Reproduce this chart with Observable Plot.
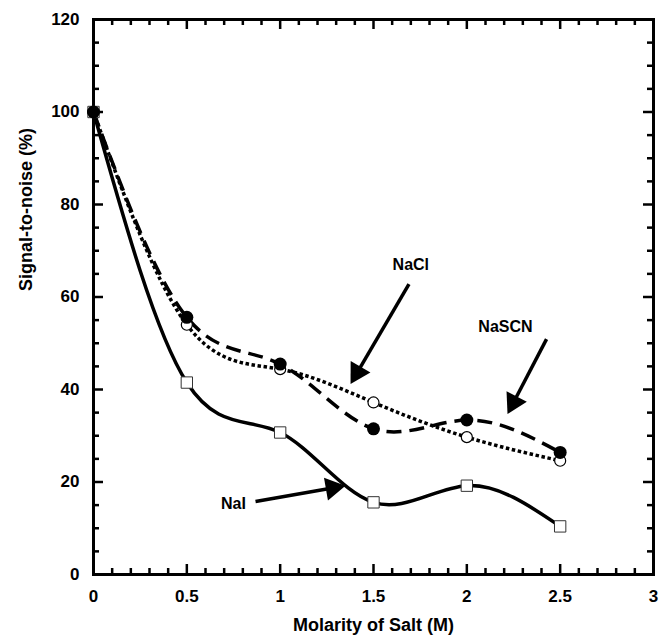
<!DOCTYPE html>
<html><head><meta charset="utf-8">
<script src="https://cdn.jsdelivr.net/npm/d3@7"></script>
<script src="https://cdn.jsdelivr.net/npm/@observablehq/plot@0.6"></script>
<style>
body{margin:0;background:#fff}
#chart svg{font-family:"Liberation Sans",Arial,Helvetica,sans-serif;font-weight:bold}
</style>
</head><body><div id="chart"></div>
<script>
// ---- data ----
const molarity = [0, 0.5, 1, 1.5, 2, 2.5];
const naI   = [100, 41.5, 30.7, 15.6, 19.2, 10.4];
const naCl  = [100, 54.0, 44.4, 37.2, 29.7, 24.6];
const naSCN = [100, 55.6, 45.5, 31.5, 33.4, 26.4];

const xMajor = [0, 0.5, 1, 1.5, 2, 2.5, 3];
const xTickLabels = ["0", "0.5", "1", "1.5", "2", "2.5", "3"];
const yMajor = [0, 20, 40, 60, 80, 100, 120];
const yTickLabels = ["0", "20", "40", "60", "80", "100", "120"];
const xMinor = [0.1,0.2,0.3,0.4,0.6,0.7,0.8,0.9,1.1,1.2,1.3,1.4,1.6,1.7,1.8,1.9,2.1,2.2,2.3,2.4,2.6,2.7,2.8,2.9];
const yMinor = [5,10,15,25,30,35,45,50,55,65,70,75,85,90,95,105,110,115];

const annLabels = ["NaCl", "NaSCN", "NaI"];
const annTextX  = [1.70, 2.207, 0.75];
const annTextY  = [67.0, 53.5, 15.2];
const annFromX  = [1.69, 2.427, 0.868];
const annFromY  = [62.8, 50.9, 15.8];
const annToX    = [1.377, 2.218, 1.35];
const annToY    = [41.2, 34.7, 19.2];

const xTitle = "Molarity of Salt (M)";
const yTitle = "Signal-to-noise (%)";

// ---- layout ----
const W = 660, H = 638, mt = 19, mr = 7, mb = 64, ml = 93;
const plotW = W - ml - mr, plotH = H - mt - mb;
const kx = plotW / 3, ky = plotH / 120;

const rows = molarity.map((m, i) => ({m, naI: naI[i], naCl: naCl[i], naSCN: naSCN[i]}));

const headR = 8.5, tipDist = 1.555 * headR;
const arrows = annLabels.map((lab, i) => {
  const dxp = (annToX[i] - annFromX[i]) * kx;
  const dyp = -(annToY[i] - annFromY[i]) * ky;
  const len = Math.hypot(dxp, dyp);
  const ux = dxp / len, uy = dyp / len;
  return {
    lab, tx: annTextX[i], ty: annTextY[i],
    x1: annFromX[i], y1: annFromY[i],
    cx: annToX[i] - ux * tipDist / kx,
    cy: annToY[i] + uy * tipDist / ky,
    rot: Math.atan2(ux, -uy) * 180 / Math.PI
  };
});

const majLen = 10, minLen = 6;

const plot = Plot.plot({
  width: W, height: H,
  marginTop: mt, marginRight: mr, marginBottom: mb, marginLeft: ml,
  style: {fontSize: "17px", fontFamily: "'Liberation Sans', Arial, sans-serif", fontWeight: "bold", color: "black", background: "white"},
  x: {domain: [0, 3]},
  y: {domain: [0, 120]},
  marks: [
    // ticks (inward, all four sides)
    Plot.tickX(xMajor, {x: d => d, insetTop: plotH - majLen, strokeWidth: 2.5}),
    Plot.tickX(xMinor, {x: d => d, insetTop: plotH - minLen, strokeWidth: 2.5}),
    Plot.tickX(xMajor, {x: d => d, insetBottom: plotH - majLen, strokeWidth: 2.5}),
    Plot.tickX(xMinor, {x: d => d, insetBottom: plotH - minLen, strokeWidth: 2.5}),
    Plot.tickY(yMajor, {y: d => d, insetRight: plotW - majLen, strokeWidth: 2.5}),
    Plot.tickY(yMinor, {y: d => d, insetRight: plotW - minLen, strokeWidth: 2.5}),
    Plot.tickY(yMajor, {y: d => d, insetLeft: plotW - majLen, strokeWidth: 2.5}),
    Plot.tickY(yMinor, {y: d => d, insetLeft: plotW - minLen, strokeWidth: 2.5}),
    Plot.frame({stroke: "black", strokeWidth: 3}),
    Plot.axisX({ticks: xMajor, tickFormat: d => xTickLabels[xMajor.indexOf(d)], tickSize: 0, tickPadding: 15, label: null, fontSize: 17}),
    Plot.axisY({ticks: yMajor, tickFormat: d => yTickLabels[yMajor.indexOf(d)], tickSize: 0, tickPadding: 14, label: null, fontSize: 17}),
    Plot.text([xTitle], {frameAnchor: "bottom", lineAnchor: "middle", dy: 51, fontSize: 18, fontWeight: "bold"}),
    Plot.text([yTitle], {frameAnchor: "left", lineAnchor: "middle", dx: -67, dy: -6, rotate: -90, fontSize: 18, fontWeight: "bold"}),
    // curves
    Plot.line(rows, {x: "m", y: "naCl", curve: "natural", stroke: "black", strokeWidth: 3.5, strokeDasharray: "3.5,2.6", strokeLinecap: "butt"}),
    Plot.line(rows, {x: "m", y: "naSCN", curve: "natural", stroke: "black", strokeWidth: 3.5, strokeDasharray: "15,8", strokeLinecap: "butt"}),
    Plot.line(rows, {x: "m", y: "naI", curve: "natural", stroke: "black", strokeWidth: 3.5}),
    // markers
    Plot.dot(rows, {x: "m", y: "naI", symbol: "square", r: 6.4, fill: "white", stroke: "#333", strokeWidth: 1}),
    Plot.dot(rows, {x: "m", y: "naCl", symbol: "circle", r: 5.5, fill: "white", stroke: "black", strokeWidth: 1.2}),
    Plot.dot(rows, {x: "m", y: "naSCN", symbol: "circle", r: 6.5, fill: "black", stroke: "none"}),
    // annotations
    Plot.link(arrows, {x1: "x1", y1: "y1", x2: "cx", y2: "cy", stroke: "black", strokeWidth: 3.5}),
    Plot.dot(arrows, {x: "cx", y: "cy", symbol: "triangle", r: headR, rotate: "rot", fill: "black", stroke: "none"}),
    Plot.text(arrows, {x: "tx", y: "ty", text: "lab", fontSize: 16, fontWeight: "bold", fill: "black"})
  ]
});
document.getElementById("chart").append(plot);
</script>
</body></html>
